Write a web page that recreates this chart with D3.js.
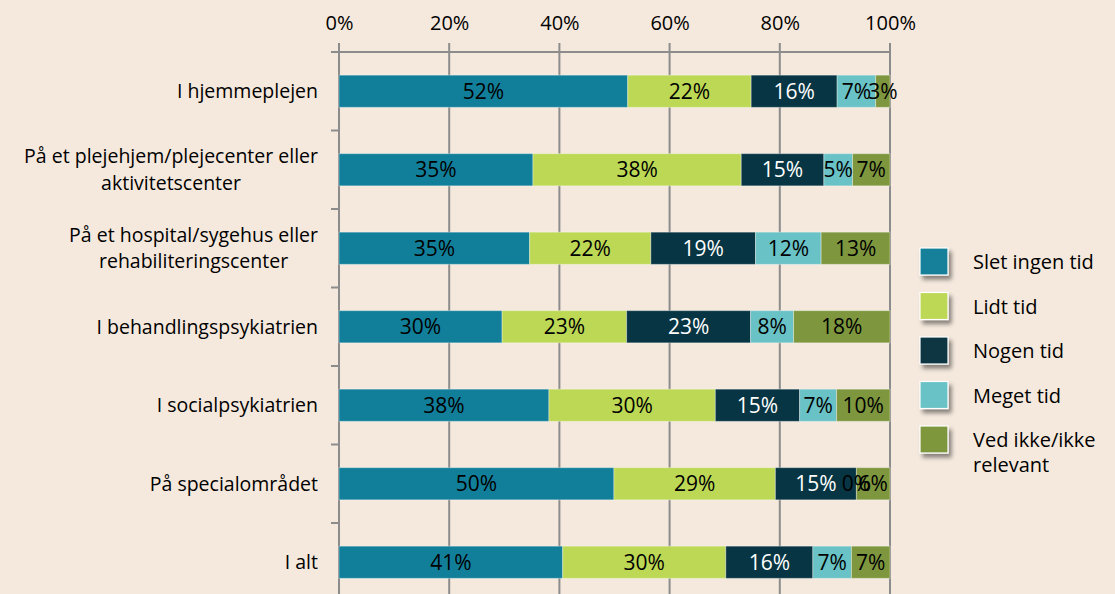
<!DOCTYPE html>
<html lang="da">
<head>
<meta charset="utf-8">
<script src="https://cdn.jsdelivr.net/npm/d3@7"></script>
<style>
  body { margin: 0; background: #f5e9dd; }
  svg { display: block; font-family: "Open Sans", sans-serif; }
</style>
</head>
<body>
<script>
// categories (top to bottom), "\n" = line break in the label
var categories = [
  "I hjemmeplejen",
  "På et plejehjem/plejecenter eller\naktivitetscenter",
  "På et hospital/sygehus eller\nrehabiliteringscenter",
  "I behandlingspsykiatrien",
  "I socialpsykiatrien",
  "På specialområdet",
  "I alt"
];
var seriesNames = ["Slet ingen tid", "Lidt tid", "Nogen tid", "Meget tid", "Ved ikke/ikke relevant"];
var sletIngenTid = [52.4, 35.2, 34.6, 29.6, 38.1, 49.9, 40.6];
var lidtTid      = [22.4, 37.8, 22.0, 22.6, 30.2, 29.3, 29.6];
var nogenTid     = [15.6, 15.0, 19.0, 22.5, 15.3, 14.7, 15.8];
var megetTid     = [7.0, 5.2, 11.9, 7.8, 6.7, 0.0, 7.0];
var vedIkke      = [2.6, 6.8, 12.5, 17.5, 9.7, 6.1, 7.0];
var tickValues = [0, 20, 40, 60, 80, 100];

var colors = ["#127f9a", "#bdd855", "#073543", "#69c2c5", "#7e973e"];
var labelColors = ["#000", "#000", "#fff", "#000", "#000"];

var w = 1115, h = 594;
var svg = d3.select("body").append("svg").attr("width", w).attr("height", h);

// drop shadow for legend boxes
var defs = svg.append("defs");
var f = defs.append("filter").attr("id", "shadow").attr("x", "-30%").attr("y", "-30%").attr("width", "170%").attr("height", "170%");
f.append("feDropShadow").attr("dx", 3).attr("dy", 4).attr("stdDeviation", 2).attr("flood-color", "#000").attr("flood-opacity", 0.45);

var x = d3.scaleLinear().domain([0, 100]).range([339, 890]);
var y = d3.scaleBand().domain(categories).range([52, 52 + 7 * 78.5])
  .paddingInner(0.59).paddingOuter(0.295);

var allSeries = [sletIngenTid, lidtTid, nogenTid, megetTid, vedIkke];
var rows = categories.map(function(c, i) {
  var o = { cat: c };
  seriesNames.forEach(function(s, j) { o[s] = allSeries[j][i]; });
  return o;
});
var stacked = d3.stack().keys(seriesNames)(rows);

// gridlines
svg.append("g").selectAll("line").data(tickValues).enter().append("line")
  .attr("x1", function(d) { return x(d); }).attr("x2", function(d) { return x(d); })
  .attr("y1", 43).attr("y2", h)
  .attr("stroke", "#8c8c8c").attr("stroke-width", 2);

// top axis
var xAxis = svg.append("g").attr("transform", "translate(0,52)")
  .call(d3.axisTop(x).tickValues(tickValues).tickFormat(function(d) { return d + "%"; }).tickSize(0).tickPadding(22));
xAxis.select(".domain").remove();
xAxis.selectAll("text").attr("font-size", 20).attr("fill", "#000").attr("font-family", "'Open Sans', sans-serif");
svg.append("line").attr("x1", 331).attr("x2", 891).attr("y1", 52).attr("y2", 52)
  .attr("stroke", "#8c8c8c").attr("stroke-width", 2);

// category ticks on the left
svg.append("g").selectAll("line").data(categories).enter().append("line")
  .attr("x1", 331).attr("x2", 339)
  .attr("y1", function(d) { return y(d) + y.bandwidth() + (y.step() - y.bandwidth()) / 2; })
  .attr("y2", function(d) { return y(d) + y.bandwidth() + (y.step() - y.bandwidth()) / 2; })
  .attr("stroke", "#8c8c8c").attr("stroke-width", 2);

// bars
var layers = svg.append("g").selectAll("g").data(stacked).enter().append("g")
  .attr("fill", function(d, i) { return colors[i]; });
layers.selectAll("rect").data(function(d) { return d; }).enter().append("rect")
  .attr("x", function(d) { return x(d[0]); })
  .attr("width", function(d) { return x(d[1]) - x(d[0]); })
  .attr("y", function(d) { return y(d.data.cat); })
  .attr("height", y.bandwidth())
  .attr("stroke", "rgba(255,255,255,0.35)").attr("stroke-width", 1);

// data labels
stacked.forEach(function(layer, i) {
  svg.append("g").selectAll("text").data(layer).enter().append("text")
    .attr("x", function(d) { return (x(d[0]) + x(d[1])) / 2; })
    .attr("y", function(d) { return y(d.data.cat) + y.bandwidth() / 2; })
    .attr("dy", "0.36em")
    .attr("text-anchor", "middle")
    .attr("font-size", 21)
    .attr("fill", labelColors[i])
    .text(function(d) { return Math.round(d.data[layer.key]) + "%"; });
});

// category labels: single lines right-aligned, wrapped lines centred on the widest line
var catLabels = svg.append("g").selectAll("text").data(categories).enter().append("text")
  .attr("text-anchor", "middle")
  .attr("font-size", 19.5)
  .attr("fill", "#000");
catLabels.each(function(d) {
  var lines = d.split("\n");
  var t = d3.select(this);
  var cy = y(d) + y.bandwidth() / 2;
  var spans = lines.map(function(l, k) {
    return t.append("tspan")
      .attr("y", cy + (k - (lines.length - 1) / 2) * 26.5)
      .attr("dy", "0.35em")
      .text(l);
  });
  var maxW = d3.max(spans, function(s) { return s.node().getComputedTextLength(); });
  spans.forEach(function(s) { s.attr("x", 318 - maxW / 2); });
});

// legend
var legend = svg.append("g").selectAll("g").data(seriesNames).enter().append("g")
  .attr("transform", function(d, i) { return "translate(920," + (248 + i * 44.5) + ")"; });
legend.append("rect").attr("width", 28).attr("height", 27)
  .attr("fill", function(d, i) { return colors[i]; })
  .attr("stroke", "#fff").attr("stroke-width", 1.2)
  .attr("filter", "url(#shadow)");
legend.append("text").attr("x", 53).attr("y", 14)
  .attr("font-size", 20).attr("fill", "#000")
  .each(function(d) {
    var t = d3.select(this);
    var lines = d === "Ved ikke/ikke relevant" ? ["Ved ikke/ikke", "relevant"] : [d];
    lines.forEach(function(l, k) {
      t.append("tspan").attr("x", 53).attr("dy", k === 0 ? "0.35em" : 25).text(l);
    });
  });
</script>
</body>
</html>
